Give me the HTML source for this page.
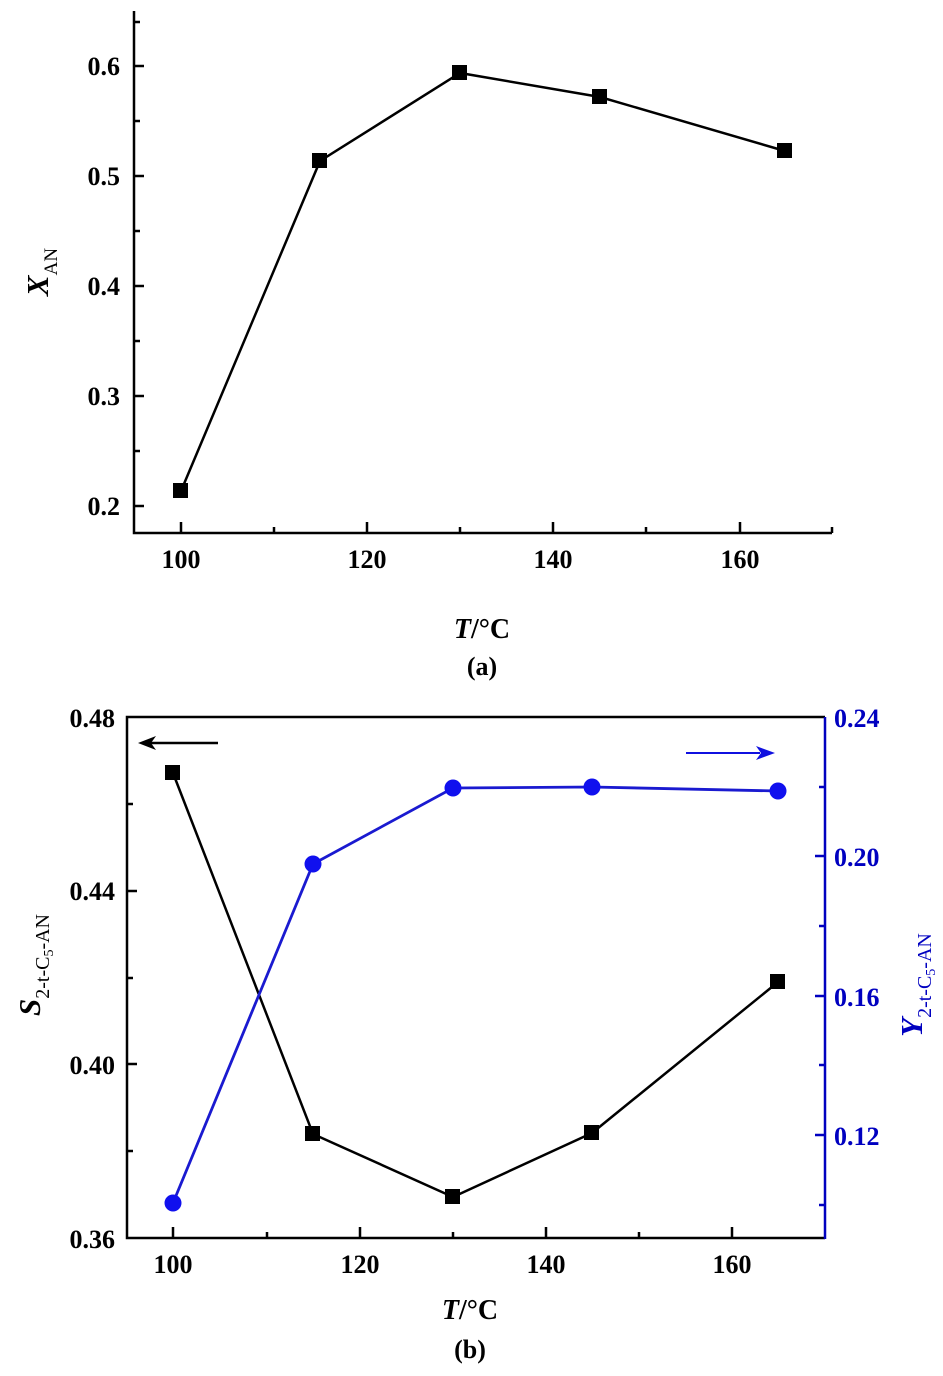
<!DOCTYPE html>
<html><head><meta charset="utf-8"><style>
body{margin:0;background:#fff}
svg text{font-family:"Liberation Serif",serif;font-weight:bold}
</style></head><body>
<svg width="943" height="1371" viewBox="0 0 943 1371" xmlns="http://www.w3.org/2000/svg">
<!-- Chart (a) -->
<g stroke="#000" stroke-width="2.5" fill="none">
<path d="M134 11 V533 H832"/>
<path d="M134 66 h10 M134 121 h6 M134 176 h10 M134 231 h6 M134 286 h10 M134 341 h6 M134 396 h10 M134 451 h6 M134 506 h10 M134 22 h6"/>
<path d="M181 533 v-11 M274 533 v-6 M367 533 v-11 M460 533 v-6 M553 533 v-11 M646 533 v-6 M740 533 v-11 M832 533 v-6"/>
<polyline points="181,491 320,161 460,73 600,97 785,151"/>
</g>
<g fill="#000">
<rect x="173" y="483" width="15" height="15"/><rect x="312" y="153" width="15" height="15"/>
<rect x="452" y="65" width="15" height="15"/><rect x="592" y="89" width="15" height="15"/>
<rect x="777" y="143" width="15" height="15"/>
</g>
<g font-size="26" text-anchor="end">
<text x="120" y="75">0.6</text><text x="120" y="185">0.5</text><text x="120" y="295">0.4</text>
<text x="120" y="405">0.3</text><text x="120" y="515">0.2</text>
</g>
<g font-size="26" text-anchor="middle">
<text x="181" y="568">100</text><text x="367" y="568">120</text><text x="553" y="568">140</text><text x="740" y="568">160</text>
</g>
<text transform="translate(48 272) rotate(-90)" font-size="31" text-anchor="middle"><tspan font-style="italic">X</tspan><tspan font-size="19" dy="9" font-weight="normal">AN</tspan></text>
<text x="482" y="638" font-size="28" text-anchor="middle"><tspan font-style="italic">T</tspan>/°C</text>
<text x="482" y="675" font-size="26" text-anchor="middle">(a)</text>

<!-- Chart (b) -->
<g stroke="#000" stroke-width="2.5" fill="none">
<path d="M825 717 H127 V1238 H825"/>
<path d="M127 804 h6 M127 891 h10 M127 978 h6 M127 1064 h10 M127 1151 h6"/>
<path d="M173 1238 v-11 M267 1238 v-6 M360 1238 v-11 M453 1238 v-6 M546 1238 v-11 M639 1238 v-6 M732 1238 v-11"/>
<polyline points="173,773 313,1134 453,1197 592,1133 778,982"/>
<path d="M218 743 H142"/>
</g>
<path d="M138 743 l18 -7 l-5 7 l5 7 z" fill="#000"/>
<g stroke="#0000c0" stroke-width="2.5" fill="none">
<path d="M825 717 V1239"/>
<path d="M825 787 h-6 M825 856 h-10 M825 926 h-6 M825 996 h-10 M825 1065 h-6 M825 1135 h-10 M825 1205 h-6"/>
</g>
<polyline points="173,1203 313,864 453,788 592,787 778,791" stroke="#1a1ad0" stroke-width="2.8" fill="none"/>
<path d="M686 753 H760" stroke="#1010e0" stroke-width="2"/>
<path d="M775 753 l-19 -7 l5 7 l-5 7 z" fill="#1010e0"/>
<g fill="#1010ee">
<circle cx="173" cy="1203" r="8.5"/><circle cx="313" cy="864" r="8.5"/><circle cx="453" cy="788" r="8.5"/>
<circle cx="592" cy="787" r="8.5"/><circle cx="778" cy="791" r="8.5"/>
</g>
<g fill="#000">
<rect x="165" y="765" width="15" height="15"/><rect x="305" y="1126" width="15" height="15"/>
<rect x="445" y="1189" width="15" height="15"/><rect x="584" y="1125" width="15" height="15"/>
<rect x="770" y="974" width="15" height="15"/>
</g>
<g font-size="26" text-anchor="end">
<text x="115" y="727">0.48</text><text x="115" y="900">0.44</text><text x="115" y="1074">0.40</text><text x="115" y="1248">0.36</text>
</g>
<g font-size="26" fill="#0000c0">
<text x="834" y="727">0.24</text><text x="834" y="866">0.20</text><text x="834" y="1006">0.16</text><text x="834" y="1145">0.12</text>
</g>
<g font-size="26" text-anchor="middle">
<text x="173" y="1273">100</text><text x="360" y="1273">120</text><text x="546" y="1273">140</text><text x="732" y="1273">160</text>
</g>
<text transform="translate(40 965) rotate(-90)" font-size="31" text-anchor="middle"><tspan font-style="italic">S</tspan><tspan font-size="20" dy="9" font-weight="normal">2-t-C<tspan font-size="14" dy="4">5</tspan><tspan dy="-4">-AN</tspan></tspan></text>
<text transform="translate(922 985) rotate(-90)" font-size="31" text-anchor="middle" fill="#0000c0"><tspan font-style="italic">Y</tspan><tspan font-size="20" dy="9" font-weight="normal">2-t-C<tspan font-size="14" dy="4">5</tspan><tspan dy="-4">-AN</tspan></tspan></text>
<text x="470" y="1319" font-size="28" text-anchor="middle"><tspan font-style="italic">T</tspan>/°C</text>
<text x="470" y="1358" font-size="26" text-anchor="middle">(b)</text>
</svg>
</body></html>
